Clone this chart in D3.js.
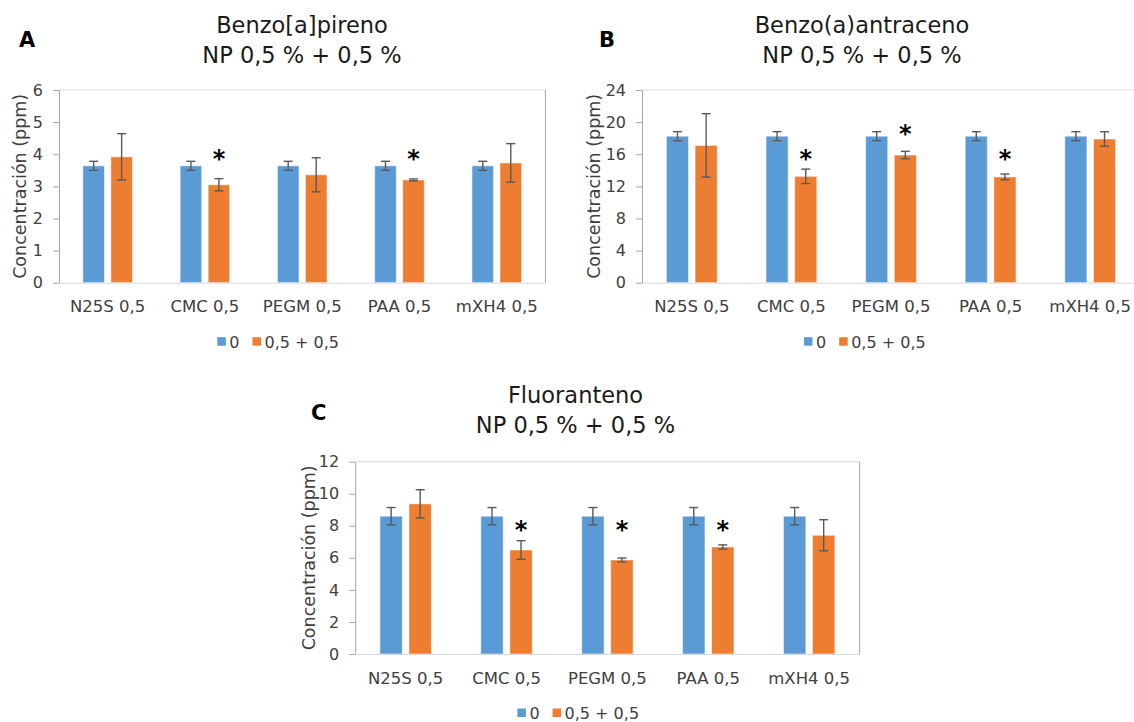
<!DOCTYPE html>
<html>
<head>
<meta charset="utf-8">
<script src="https://cdn.jsdelivr.net/npm/d3@7"></script>
<style>
  body { margin: 0; background: #fff; }
  svg { display: block; font-family: "DejaVu Sans", Verdana, sans-serif; }
</style>
</head>
<body>
<svg id="fig" width="1134" height="722"></svg>
<script>
// Shared categories and series
const categories = ["N25S 0,5", "CMC 0,5", "PEGM 0,5", "PAA 0,5", "mXH4 0,5"];
const seriesNames = ["0", "0,5 + 0,5"];
const seriesColors = ["#5B9BD5", "#ED7D31"];

// Benzo[a]pireno (ppm)
const bapControl      = [3.64, 3.64, 3.64, 3.64, 3.64];
const bapControlErr   = [0.14, 0.14, 0.14, 0.14, 0.14];
const bapTreated      = [3.92, 3.05, 3.36, 3.20, 3.73];
const bapTreatedErr   = [0.72, 0.19, 0.53, 0.03, 0.60];
const bapStars        = [null, 4.03, null, 4.03, null];
const bapTicks        = [0, 1, 2, 3, 4, 5, 6];

// Benzo(a)antraceno (ppm)
const baaControl      = [18.25, 18.25, 18.25, 18.25, 18.25];
const baaControlErr   = [0.56, 0.56, 0.56, 0.56, 0.56];
const baaTreated      = [17.10, 13.25, 15.90, 13.18, 17.90];
const baaTreatedErr   = [3.95, 0.90, 0.46, 0.36, 0.90];
const baaStars        = [null, 16.1, 19.2, 16.1, null];
const baaTicks        = [0, 4, 8, 12, 16, 20, 24];

// Fluoranteno (ppm)
const fluControl      = [8.60, 8.60, 8.60, 8.60, 8.60];
const fluControlErr   = [0.54, 0.54, 0.54, 0.54, 0.54];
const fluTreated      = [9.37, 6.49, 5.87, 6.68, 7.41];
const fluTreatedErr   = [0.88, 0.58, 0.12, 0.13, 0.97];
const fluStars        = [null, 8.1, 8.1, 8.1, null];
const fluTicks        = [0, 2, 4, 6, 8, 10, 12];

const subtitle = "NP 0,5 % + 0,5 %";
const yTitle = "Concentración (ppm)";

// Panel layout (pixels)
const panels = [
  {
    letter: "A", title: "Benzo[a]pireno", ticks: bapTicks,
    values: [bapControl, bapTreated], errors: [bapControlErr, bapTreatedErr], stars: bapStars,
    plot: { left: 59, right: 545.4, top: 90, bottom: 282.7, frameRight: true },
    titleX: 302, titleY: 33, letterX: 19, letterY: 47,
    yTitleX: 20, legendX: 217.3
  },
  {
    letter: "B", title: "Benzo(a)antraceno", ticks: baaTicks,
    values: [baaControl, baaTreated], errors: [baaControlErr, baaTreatedErr], stars: baaStars,
    plot: { left: 642, right: 1140, top: 90, bottom: 282.7, frameRight: false },
    titleX: 862, titleY: 33, letterX: 599, letterY: 47,
    yTitleX: 594, legendX: 804
  },
  {
    letter: "C", title: "Fluoranteno", ticks: fluTicks,
    values: [fluControl, fluTreated], errors: [fluControlErr, fluTreatedErr], stars: fluStars,
    plot: { left: 355.2, right: 859.6, top: 461.7, bottom: 654, frameRight: true },
    titleX: 575.5, titleY: 403, letterX: 311, letterY: 420,
    yTitleX: 308.7, legendX: 517.4
  }
];

const svg = d3.select("#fig");

panels.forEach(p => {
  const g = svg.append("g");
  const { left, right, top, bottom } = p.plot;

  const y = d3.scaleLinear().domain([0, d3.max(p.ticks)]).range([bottom, top]);
  const x0 = d3.scaleBand().domain(categories).range([left, right])
    .paddingInner(0.49).paddingOuter(0.245);
  const x1 = d3.scaleBand().domain(seriesNames).range([0, x0.bandwidth()])
    .paddingInner(0.228);

  // Plot-area frame: top edge and right edge
  const frameEnd = p.plot.frameRight ? right : 1134;
  g.append("line").attr("x1", left).attr("x2", frameEnd).attr("y1", top).attr("y2", top)
    .attr("stroke", "#d9d9d9").attr("stroke-width", 1);
  if (p.plot.frameRight) {
    g.append("line").attr("x1", right).attr("x2", right).attr("y1", top).attr("y2", bottom)
      .attr("stroke", "#a6a6a6").attr("stroke-width", 1);
  }

  // Bars
  const rows = categories.map((c, i) => ({
    cat: c,
    items: seriesNames.map((s, k) => ({
      series: s, k, value: p.values[k][i], err: p.errors[k][i]
    }))
  }));

  const grp = g.selectAll(".cat").data(rows).join("g")
    .attr("transform", d => `translate(${x0(d.cat)},0)`);

  grp.selectAll("rect").data(d => d.items).join("rect")
    .attr("x", d => x1(d.series))
    .attr("width", x1.bandwidth())
    .attr("y", d => y(d.value))
    .attr("height", d => y(0) - y(d.value))
    .attr("fill", d => seriesColors[d.k])
    .attr("stroke", "rgba(255,255,255,0.55)")
    .attr("stroke-width", 1);

  // Error bars
  const eb = grp.selectAll(".err").data(d => d.items).join("g")
    .attr("transform", d => `translate(${x1(d.series) + x1.bandwidth() / 2},0)`)
    .attr("stroke", "#595959").attr("stroke-width", 1.4);
  eb.append("line").attr("y1", d => y(d.value - d.err)).attr("y2", d => y(d.value + d.err));
  eb.append("line").attr("x1", -4.5).attr("x2", 4.5)
    .attr("y1", d => y(d.value + d.err)).attr("y2", d => y(d.value + d.err));
  eb.append("line").attr("x1", -4.5).attr("x2", 4.5)
    .attr("y1", d => y(d.value - d.err)).attr("y2", d => y(d.value - d.err));

  // Significance marks over the treated bars
  g.selectAll(".star").data(categories.map((c, i) => ({ cat: c, level: p.stars[i] }))
      .filter(d => d.level !== null))
    .join("text")
    .attr("x", d => x0(d.cat) + x1(seriesNames[1]) + x1.bandwidth() / 2)
    .attr("y", d => y(d.level))
    .attr("dy", "0.56em")
    .attr("text-anchor", "middle")
    .attr("font-weight", "bold")
    .attr("font-size", 24)
    .attr("fill", "#000")
    .text("*");

  // Y axis
  const ya = g.append("g").attr("transform", `translate(${left},0)`)
    .call(d3.axisLeft(y).tickValues(p.ticks).tickFormat(d3.format("d"))
      .tickSize(6).tickSizeOuter(0).tickPadding(10));
  ya.select(".domain").attr("stroke", "#a6a6a6");
  ya.selectAll(".tick line").attr("stroke", "#a6a6a6");
  ya.selectAll(".tick text").attr("font-size", 16).attr("fill", "#404040")
    .attr("font-family", "DejaVu Sans, Verdana, sans-serif");

  // X axis
  const xa = g.append("g").attr("transform", `translate(0,${bottom})`)
    .call(d3.axisBottom(x0).tickSize(0).tickSizeOuter(0).tickPadding(18));
  xa.select(".domain").attr("stroke", "#d9d9d9");
  xa.selectAll(".tick text").attr("font-size", 16.5).attr("fill", "#404040")
    .attr("font-family", "DejaVu Sans, Verdana, sans-serif");

  // Y axis title
  g.append("text")
    .attr("transform", `translate(${p.yTitleX},${(top + bottom) / 2}) rotate(-90)`)
    .attr("dy", "0.35em")
    .attr("text-anchor", "middle")
    .attr("font-size", 17.5)
    .attr("fill", "#404040")
    .text(yTitle);

  // Title
  const t = g.append("text").attr("text-anchor", "middle")
    .attr("font-size", 22.5).attr("fill", "#1a1a1a");
  t.append("tspan").attr("x", p.titleX).attr("y", p.titleY).text(p.title);
  t.append("tspan").attr("x", p.titleX).attr("y", p.titleY + 30).text(subtitle);

  // Panel letter
  g.append("text").attr("x", p.letterX).attr("y", p.letterY)
    .attr("font-size", 21).attr("font-weight", "bold").attr("fill", "#000")
    .text(p.letter);

  // Legend
  const legY = bottom + 65;
  const leg = g.append("g").attr("transform", `translate(${p.legendX},${legY})`);
  let lx = 0;
  seriesNames.forEach((s, k) => {
    leg.append("rect").attr("x", lx).attr("y", -10.5).attr("width", 8.5).attr("height", 8.5)
      .attr("fill", seriesColors[k]);
    const tx = leg.append("text").attr("x", lx + 12).attr("y", 0)
      .attr("font-size", 16).attr("fill", "#404040").text(s);
    lx += 12 + tx.node().getComputedTextLength() + 13;
  });
});
</script>
</body>
</html>
